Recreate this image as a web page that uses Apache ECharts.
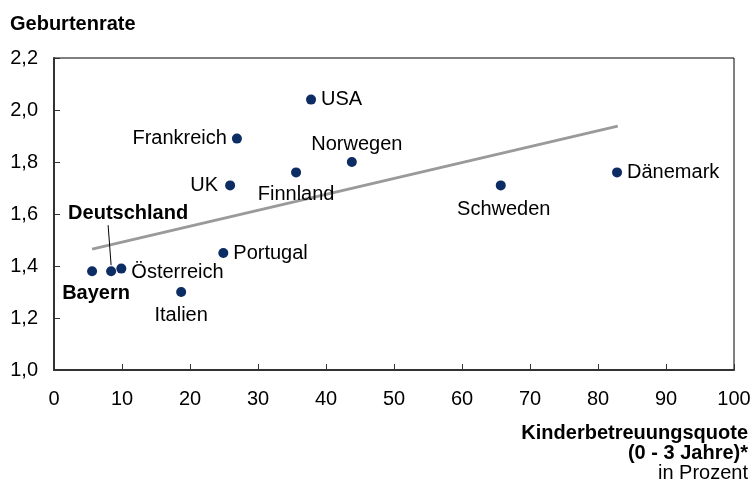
<!DOCTYPE html>
<html>
<head>
<meta charset="utf-8">
<script src="https://cdn.jsdelivr.net/npm/echarts@6/dist/echarts.min.js"></script>
<style>html,body{margin:0;padding:0;background:#fff}#c{width:755px;height:486px}</style>
</head>
<body>
<div id="c"></div>
<script>
// Data
var countries = ['Bayern','Deutschland','Österreich','Italien','Portugal','UK','Frankreich','Finnland','USA','Norwegen','Schweden','Dänemark'];
var childcareQuota = [5.6, 8.4, 9.9, 18.7, 24.9, 25.9, 26.9, 35.6, 37.8, 43.8, 65.7, 82.8];
var birthRate = [1.38, 1.38, 1.39, 1.30, 1.45, 1.71, 1.89, 1.76, 2.04, 1.80, 1.71, 1.76];
var trendX = [5.6, 82.9];
var trendY = [1.465, 1.938];
var xTicks = [0, 10, 20, 30, 40, 50, 60, 70, 80, 90, 100];
var yTicks = ['1,0','1,2','1,4','1,6','1,8','2,0','2,2'];

// label placement (style only)
var labelPlace = {
  'Bayern': {position:'bottom', distance:7, fontWeight:'bold'},
  'Deutschland': {position:'top', distance:5, fontWeight:'bold'},
  'Österreich': {position:'right', distance:5},
  'Italien': {position:'bottom', distance:7},
  'Portugal': {position:'right', distance:5},
  'UK': {position:'left', distance:7},
  'Frankreich': {position:'left', distance:5},
  'Finnland': {position:'bottom', distance:7},
  'USA': {position:'right', distance:5},
  'Norwegen': {position:'top', distance:3},
  'Schweden': {position:'bottom', distance:9},
  'Dänemark': {position:'right', distance:5}
};
var labelShift = {
  'Bayern': [4, 0],
  'Deutschland': [17, -38],
  'Österreich': [0, 4],
  'Norwegen': [5, 0],
  'Schweden': [3, 0],
  'Italien': [0, 1]
};

var FONT = 'Liberation Sans, Arial, sans-serif';
var FS = 20;
var pts = countries.map(function(n, i){
  return {
    name: n,
    value: [childcareQuota[i], birthRate[i]],
    label: Object.assign({show:true, formatter: n, fontFamily:FONT, fontSize:FS, color:'#000'}, labelPlace[n])
  };
});

var axisNameTexts = [
  {type:'text', right:7, top:423, style:{text:'Kinderbetreuungsquote', font:'bold '+FS+'px '+FONT, fill:'#000'}},
  {type:'text', right:7, top:443, style:{text:'(0 - 3 Jahre)*', font:'bold '+FS+'px '+FONT, fill:'#000'}},
  {type:'text', right:7, top:463, style:{text:'in Prozent', font:FS+'px '+FONT, fill:'#000'}}
];

var chart = echarts.init(document.getElementById('c'), null, {renderer:'canvas'});
chart.setOption({
  animation:false,
  title:{text:'Geburtenrate', left:5, top:9, textStyle:{fontFamily:FONT, fontSize:FS, fontWeight:'bold', color:'#000'}},
  grid:{left:54, right:21, top:58, bottom:116, show:true, borderColor:'#000', borderWidth:1},
  xAxis:{type:'value', min:0, max:100, interval:10,
    axisLine:{show:true, lineStyle:{color:'#333', width:2}},
    axisTick:{show:true, inside:true, length:6, lineStyle:{color:'#333', width:1}},
    splitLine:{show:false},
    axisLabel:{margin:19, fontFamily:FONT, fontSize:FS, color:'#000',
      formatter:function(v){ return xTicks.indexOf(v) >= 0 ? String(v) : ''; }}
  },
  yAxis:{type:'value', min:1.0, max:2.2, interval:0.2,
    axisLine:{show:true, lineStyle:{color:'#333', width:2}},
    axisTick:{show:true, inside:true, length:6, lineStyle:{color:'#333', width:1}},
    splitLine:{show:false},
    axisLabel:{margin:16, fontFamily:FONT, fontSize:FS, color:'#000',
      formatter:function(v){ var i = Math.round((v-1.0)/0.2); return yTicks[i] || ''; }}
  },
  series:[
    {type:'line', data:trendX.map(function(x,i){return [x,trendY[i]];}), symbol:'none',
     lineStyle:{color:'#9a9a9a', width:3}, silent:true, z:1},
    {type:'scatter', data:pts, symbolSize:10, itemStyle:{color:'#0c2c64', opacity:1}, z:3,
     labelLayout:function(p){ var s = labelShift[countries[p.dataIndex]]; return s ? {dx:s[0], dy:s[1]} : {}; }
    }
  ],
  graphic: axisNameTexts
});

// leader line for the Deutschland label, positioned via the chart's own scale
var di = countries.indexOf('Deutschland');
var dp = chart.convertToPixel({gridIndex:0}, [childcareQuota[di], birthRate[di]]);
chart.setOption({
  graphic: axisNameTexts.concat([
    {type:'line', silent:true, z:5, shape:{x1:dp[0]-3, y1:dp[1]-46, x2:dp[0], y2:dp[1]-6}, style:{stroke:'#000', lineWidth:1}}
  ])
});
</script>
</body>
</html>
